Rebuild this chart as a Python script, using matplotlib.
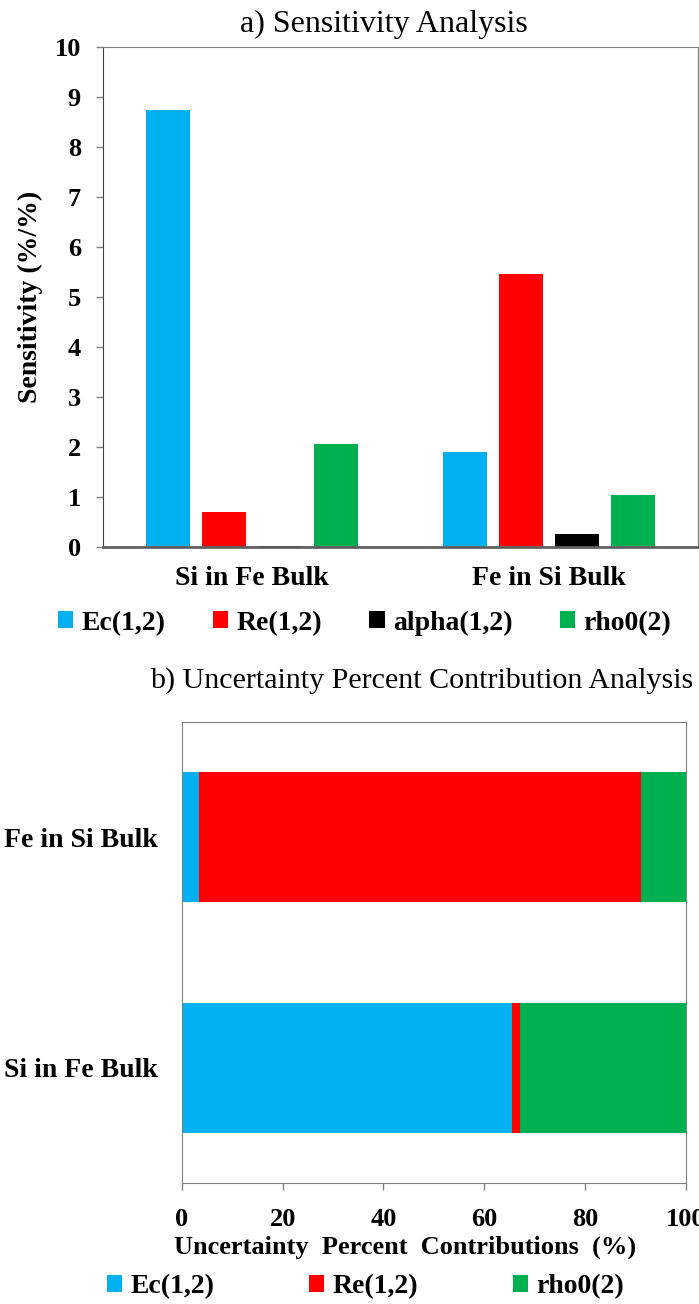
import numpy as np
import matplotlib
matplotlib.use("Agg")
import matplotlib.pyplot as plt

plt.rcParams['font.family'] = ['Liberation Serif', 'DejaVu Serif']

# sensitivity (%/%) per parameter, for each system
systems = ["Si in Fe Bulk", "Fe in Si Bulk"]
params = ["Ec(1,2)", "Re(1,2)", "alpha(1,2)", "rho0(2)"]
sens_ec = [8.75, 1.90]
sens_re = [0.71, 5.46]
sens_alpha = [0.03, 0.27]
sens_rho0 = [2.06, 1.04]

# uncertainty percent contributions (%), stacked
unc_systems = ["Si in Fe Bulk", "Fe in Si Bulk"]
unc_params = ["Ec(1,2)", "Re(1,2)", "rho0(2)"]
unc_ec = [65.5, 3.4]
unc_re = [1.5, 87.6]
unc_rho0 = [33.0, 9.0]

colors = {"Ec(1,2)": "#00B0F0", "Re(1,2)": "#FF0000",
          "alpha(1,2)": "#000000", "rho0(2)": "#00B050"}
frame_grey = "#808080"

fig = plt.figure(figsize=(6.99, 13.04), dpi=100)

# ---- a) grouped bars
ax1 = fig.add_axes([0.1474, 0.5805, 0.8512, 0.3834])
x = np.arange(len(systems))
width = 0.148
step = 0.188
series = [sens_ec, sens_re, sens_alpha, sens_rho0]
bars_a = []
for i, (name, vals) in enumerate(zip(params, series)):
    b = ax1.bar(x + (i - 1.5) * step, vals, width, color=colors[name], label=name, zorder=2)
    bars_a.append(b)
ax1.set_xlim(-0.5, 1.5)
ax1.set_ylim(0, 10)
ax1.set_yticks(range(0, 11))
ax1.set_xticks(x)
ax1.set_xticklabels(systems, fontsize=20, fontweight='bold')
ax1.tick_params(axis='x', length=0, pad=14)
ax1.tick_params(axis='y', length=5, width=1, color=frame_grey, pad=11, labelsize=19)
for lab in ax1.get_yticklabels():
    lab.set_fontweight('bold')
ax1.spines['left'].set_color('#404040')
ax1.spines['bottom'].set_color('#606060')
ax1.spines['bottom'].set_linewidth(2)
for s in ['top', 'right']:
    ax1.spines[s].set_color(frame_grey)
ax1.set_ylabel("Sensitivity (%/%)", fontsize=20, fontweight='bold', labelpad=8)
fig.text(0.5487, 0.9815, "a) Sensitivity Analysis", fontsize=23, ha='center', va='center')
fig.legend(handles=bars_a, labels=params, loc='center', bbox_to_anchor=(0.5215, 0.5222),
           ncol=4, frameon=False, prop={'size': 20, 'weight': 'bold'},
           handlelength=0.55, handleheight=0.55, handletextpad=0.3, columnspacing=1.7)

# ---- b) stacked horizontal bars
ax2 = fig.add_axes([0.26, 0.0930, 0.7215, 0.3531])
y = np.arange(len(unc_systems))
left = np.zeros(len(unc_systems))
bars_b = []
for name, vals in zip(unc_params, [unc_ec, unc_re, unc_rho0]):
    b = ax2.barh(y, vals, 0.565, left=left, color=colors[name], label=name, zorder=2)
    left = left + np.array(vals)
    bars_b.append(b)
ax2.set_xlim(0, 100)
ax2.set_ylim(-0.5, 1.5)
ax2.set_xticks(range(0, 101, 20))
ax2.set_yticks(y)
ax2.set_yticklabels(unc_systems, fontsize=20, fontweight='bold')
ax2.tick_params(axis='y', length=0, pad=17)
ax2.tick_params(axis='x', length=5, width=1, color=frame_grey, pad=13, labelsize=19)
for lab in ax2.get_xticklabels():
    lab.set_fontweight('bold')
for s in ax2.spines.values():
    s.set_color(frame_grey)
ax2.set_xlabel("Uncertainty  Percent  Contributions  (%)", fontsize=19, fontweight='bold')
ax2.xaxis.set_label_coords(0.442, -0.115)
fig.text(0.603, 0.4785, "b) Uncertainty Percent Contribution Analysis", fontsize=21.6,
         ha='center', va='center')
fig.legend(handles=bars_b, labels=unc_params, loc='center', bbox_to_anchor=(0.523, 0.013),
           ncol=3, frameon=False, prop={'size': 20, 'weight': 'bold'},
           handlelength=0.55, handleheight=0.55, handletextpad=0.3, columnspacing=3.4)

fig.savefig("out.png", dpi=100)
